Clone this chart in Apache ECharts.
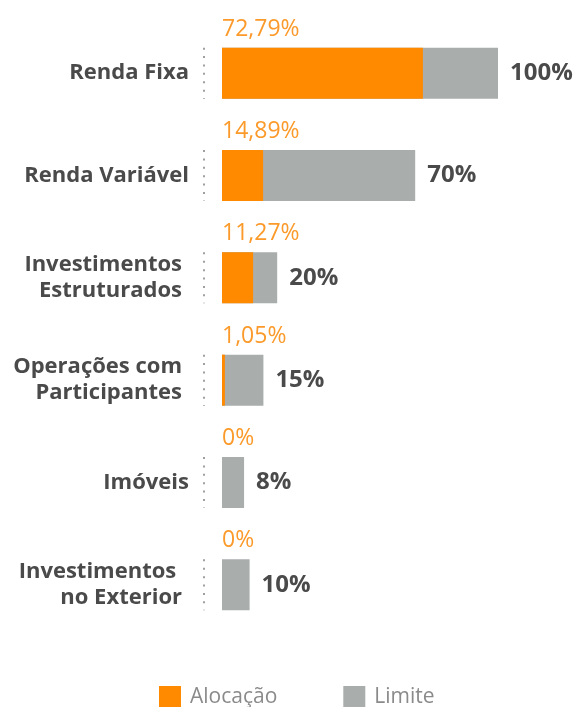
<!DOCTYPE html>
<html>
<head>
<meta charset="utf-8">
<script src="https://cdn.jsdelivr.net/npm/echarts@6/dist/echarts.min.js"></script>
<style>
  html, body { margin: 0; padding: 0; background: #fff; }
  #chart { width: 585px; height: 707px; }
</style>
</head>
<body>
<div id="chart"></div>
<script>
// categorias e valores (%)
const categories = [
  'Renda Fixa',
  'Renda Variável',
  'Investimentos\nEstruturados',
  'Operações com\nParticipantes',
  'Imóveis',
  'Investimentos \nno Exterior'
];
const alocacao = [72.79, 14.89, 11.27, 1.05, 0, 0];
const limite = [100, 70, 20, 15, 8, 10];

const ORANGE = '#ff8a00';
const GRAY = '#a9adac';
const DARK = '#4a4a4a';
const FONT = '"Open Sans", "Noto Sans", sans-serif';

function fmtPct(v) {
  return v === 0 ? '0%' : v.toFixed(2).replace('.', ',') + '%';
}

const chart = echarts.init(document.getElementById('chart'));

chart.setOption({
  animation: false,
  textStyle: { fontFamily: FONT },
  grid: { left: 222, right: 87, top: 22, bottom: 71 },
  legend: {
    bottom: -1,
    left: 159,
    padding: 0,
    data: ['Alocação', 'Limite'],
    icon: 'rect',
    itemWidth: 22,
    itemHeight: 22,
    itemGap: 66,
    textStyle: { fontSize: 21, color: '#8a8a8a', fontFamily: FONT, padding: [0, 0, 0, 4] }
  },
  xAxis: { type: 'value', min: 0, max: 100, show: false },
  yAxis: {
    type: 'category',
    data: categories,
    inverse: true,
    axisLine: { show: false },
    axisTick: { show: false },
    axisLabel: {
      margin: 33,
      fontSize: 22,
      fontWeight: 'bold',
      color: DARK,
      lineHeight: 26,
      fontFamily: FONT,
      // rótulos de duas linhas ficam um pouco mais à esquerda
      formatter: v => v.indexOf('\n') < 0 ? v
        : v.split('\n').map(l => '{m|' + l + '}').join('\n'),
      rich: {
        m: {
          fontSize: 22,
          fontWeight: 'bold',
          color: DARK,
          lineHeight: 26,
          fontFamily: FONT,
          padding: [0, 7, 0, 0]
        }
      }
    }
  },
  series: [
    {
      name: 'Limite',
      type: 'bar',
      data: limite,
      barWidth: 51,
      barGap: '-100%',
      itemStyle: { color: GRAY },
      label: {
        show: true,
        position: 'right',
        distance: 12,
        fontSize: 24,
        fontWeight: 'bold',
        color: DARK,
        formatter: p => limite[p.dataIndex] + '%'
      }
    },
    {
      name: 'Alocação',
      type: 'bar',
      data: alocacao,
      barWidth: 51,
      itemStyle: { color: ORANGE },
      label: {
        show: true,
        position: [0, -7],
        align: 'left',
        verticalAlign: 'bottom',
        fontSize: 23,
        color: '#fb9a2a',
        formatter: p => fmtPct(alocacao[p.dataIndex])
      }
    },
    {
      // pontilhado à esquerda de cada barra
      type: 'custom',
      silent: true,
      data: categories.map((c, i) => [0, i]),
      encode: { x: 0, y: 1 },
      renderItem: (params, api) => {
        const p = api.coord([0, api.value(1)]);
        const h = 51;
        return {
          type: 'line',
          shape: { x1: p[0] - 18, y1: p[1] - h / 2, x2: p[0] - 18, y2: p[1] + h / 2 },
          style: { stroke: '#a0a0a0', lineWidth: 2, lineDash: [2, 6.4], lineCap: 'butt' }
        };
      }
    }
  ]
});
</script>
</body>
</html>
